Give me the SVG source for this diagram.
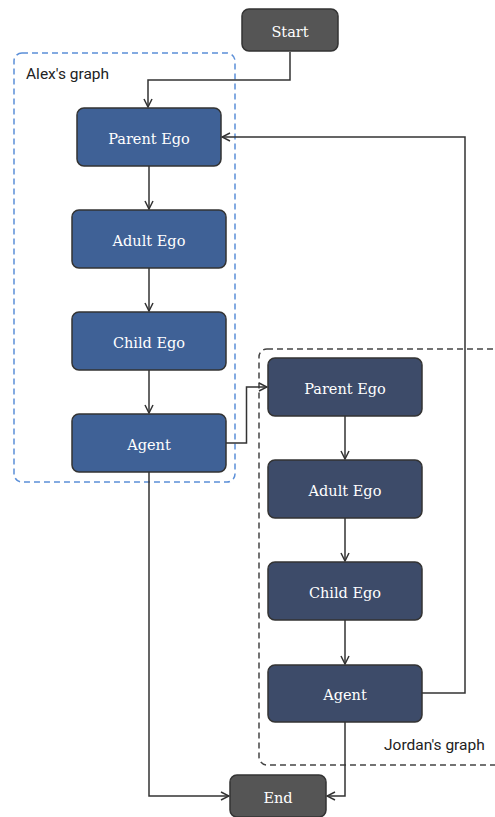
<svg xmlns="http://www.w3.org/2000/svg" width="495" height="817" viewBox="0 0 495 817">
<style>
.node rect{stroke:#333;stroke-width:1.5}
.term rect{fill:#555}
.alex rect{fill:#3f6196}
.jordan rect{fill:#3d4b69}
.node text{font-family:"DejaVu Serif",serif;font-size:14.5px;fill:#fff;text-anchor:middle;dominant-baseline:central}
.cl{fill:none;stroke-width:1.5;stroke-dasharray:6 4}
.cltext{font-family:Roboto,"Liberation Sans",sans-serif;font-size:15.5px;fill:#222}
.edge{fill:none;stroke:#333;stroke-width:1.5;marker-end:url(#arr)}
</style>
<defs>
<marker id="arr" viewBox="0 0 10 10" refX="9" refY="5" markerWidth="10" markerHeight="10" markerUnits="userSpaceOnUse" orient="auto">
<path d="M1,1 L9,5 L1,9" fill="none" stroke="#333" stroke-width="1.5"/>
</marker>
</defs>
<g id="cluster-alex">
<rect class="cl" x="14" y="53" width="221" height="429" rx="8" stroke="#5b8fd8"/>
<text class="cltext" x="26" y="79">Alex's graph</text>
</g>
<g id="cluster-jordan">
<rect class="cl" x="259" y="349" width="248" height="416" rx="8" stroke="#444"/>
<text class="cltext" x="384" y="750">Jordan's graph</text>
</g>
<g id="connectors">
<path class="edge" d="M290,52 V80 H148 V107"/>
<path class="edge" d="M149,166 V209"/>
<path class="edge" d="M149,268 V311"/>
<path class="edge" d="M149,370 V413"/>
<path class="edge" d="M226,443 H246.5 V387 H267"/>
<path class="edge" d="M345,416 V459"/>
<path class="edge" d="M345,518 V561"/>
<path class="edge" d="M345,620 V664"/>
<path class="edge" d="M422,693 H465 V137 H222"/>
<path class="edge" d="M149,472 V796 H229"/>
<path class="edge" d="M345,722 V796 H327"/>
</g>
<g id="start" class="node term"><rect x="242" y="9" width="96" height="42" rx="7"/><text x="290" y="32">Start</text></g>
<g id="alex-parent" class="node alex"><rect x="77" y="108" width="144" height="58" rx="7"/><text x="149" y="139">Parent Ego</text></g>
<g id="alex-adult" class="node alex"><rect x="72" y="210" width="154" height="58" rx="7"/><text x="149" y="241">Adult Ego</text></g>
<g id="alex-child" class="node alex"><rect x="72" y="312" width="154" height="58" rx="7"/><text x="149" y="343">Child Ego</text></g>
<g id="alex-agent" class="node alex"><rect x="72" y="414" width="154" height="58" rx="7"/><text x="149" y="445">Agent</text></g>
<g id="jordan-parent" class="node jordan"><rect x="268" y="358" width="154" height="58" rx="7"/><text x="345" y="389">Parent Ego</text></g>
<g id="jordan-adult" class="node jordan"><rect x="268" y="460" width="154" height="58" rx="7"/><text x="345" y="491">Adult Ego</text></g>
<g id="jordan-child" class="node jordan"><rect x="268" y="562" width="154" height="58" rx="7"/><text x="345" y="593">Child Ego</text></g>
<g id="jordan-agent" class="node jordan"><rect x="268" y="665" width="154" height="57" rx="7"/><text x="345" y="695">Agent</text></g>
<g id="end" class="node term"><rect x="230" y="775" width="96" height="42" rx="7"/><text x="278" y="798">End</text></g>
</svg>
